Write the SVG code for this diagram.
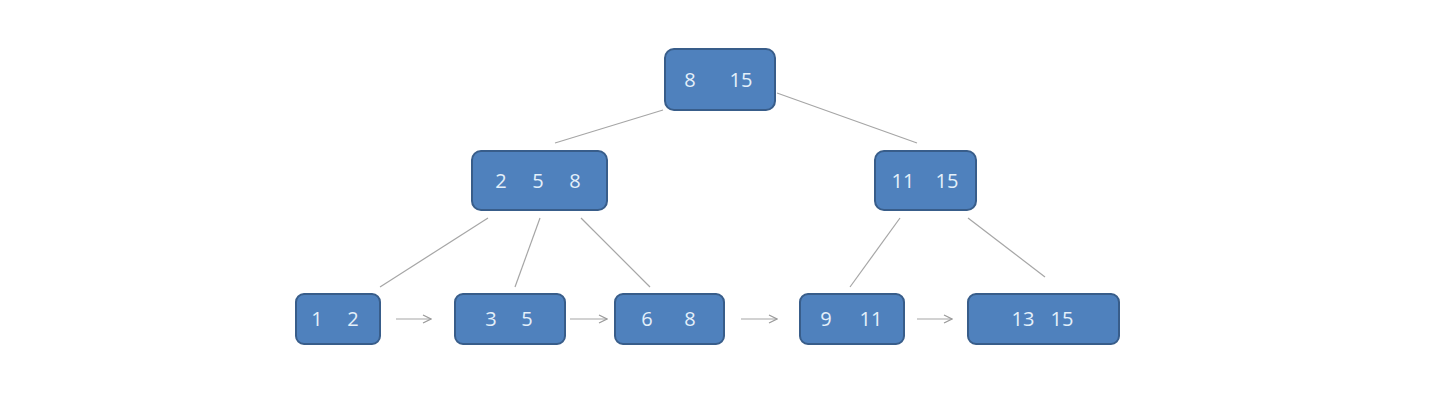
<svg xmlns="http://www.w3.org/2000/svg" width="1442" height="407" viewBox="0 0 1442 407">
<style>
.n rect{fill:#4F81BD;stroke:#385D8A;stroke-width:2}
.n text{font-family:"Open Sans","Liberation Sans",sans-serif;font-size:20px;fill:#E4F0FA;text-anchor:middle}
.c line{stroke:#A6A6A6;stroke-width:1.2}
.c .a{marker-end:url(#ah)}
</style>
<defs>
<marker id="ah" viewBox="0 0 10 10" refX="9" refY="5" markerWidth="10" markerHeight="10" markerUnits="userSpaceOnUse" orient="auto">
<path d="M1,1 L9,5 L1,9" fill="none" stroke="#9A9A9A" stroke-width="1.2"/>
</marker>
</defs>
<rect width="1442" height="407" fill="#fff"/>
<g class="c">
<line x1="663" y1="110" x2="555" y2="143"/>
<line x1="777" y1="93" x2="917" y2="143"/>
<line x1="488" y1="218" x2="380" y2="287"/>
<line x1="540" y1="218" x2="515" y2="287"/>
<line x1="581" y1="218" x2="650" y2="287"/>
<line x1="900" y1="218" x2="850" y2="287"/>
<line x1="968" y1="218" x2="1045" y2="277"/>
<line class="a" x1="396" y1="319" x2="431" y2="319"/>
<line class="a" x1="570" y1="319" x2="607" y2="319"/>
<line class="a" x1="741" y1="319" x2="777" y2="319"/>
<line class="a" x1="917" y1="319" x2="952" y2="319"/>
</g>
<g id="root" class="n"><rect x="665" y="49" width="110" height="61" rx="9"/><text x="690" y="87">8</text><text x="741" y="87">15</text></g>
<g id="n258" class="n"><rect x="472" y="151" width="135" height="59" rx="9"/><text x="501" y="188">2</text><text x="538" y="188">5</text><text x="575" y="188">8</text></g>
<g id="n1115" class="n"><rect x="875" y="151" width="101" height="59" rx="9"/><text x="903" y="188">11</text><text x="947" y="188">15</text></g>
<g id="l12" class="n"><rect x="296" y="294" width="84" height="50" rx="8"/><text x="317" y="326">1</text><text x="353" y="326">2</text></g>
<g id="l35" class="n"><rect x="455" y="294" width="110" height="50" rx="8"/><text x="491" y="326">3</text><text x="527" y="326">5</text></g>
<g id="l68" class="n"><rect x="615" y="294" width="109" height="50" rx="8"/><text x="647" y="326">6</text><text x="690" y="326">8</text></g>
<g id="l911" class="n"><rect x="800" y="294" width="104" height="50" rx="8"/><text x="826" y="326">9</text><text x="871" y="326">11</text></g>
<g id="l1315" class="n"><rect x="968" y="294" width="151" height="50" rx="8"/><text x="1023" y="326">13</text><text x="1062" y="326">15</text></g>
</svg>
